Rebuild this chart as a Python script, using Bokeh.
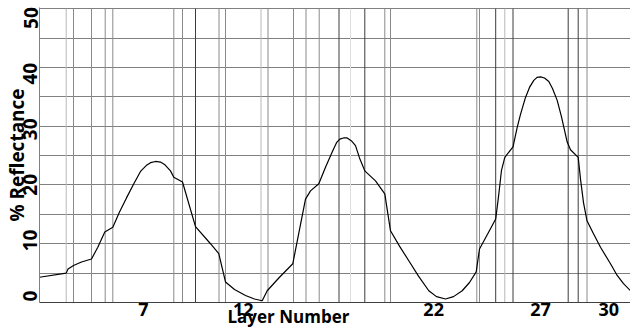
import math
from bokeh.plotting import figure
from bokeh.models import Range1d, FixedTicker, ColumnDataSource, LinearAxis
from bokeh.embed import file_html
from bokeh.resources import INLINE

# Layer boundaries along the stack (position, a.u.)
layer_edges = [0, 26.7, 34, 52, 65.7, 73.3, 134.3, 143, 156, 179.5, 186, 221.5,
               228.5, 254, 266.5, 279.7, 299.5, 311, 325.3, 345.3, 351, 437.3,
               440, 456.2, 465.3, 473.5, 528.7, 538.7, 547.5, 591]
first_layer = 2
labelled_layers = [7, 12, 22, 27, 30]
# tone of each inner boundary line: D dark, G gray, L light, V very light
boundary_tone = ["L", "G", "G", "G", "G", "G", "G", "D", "G", "G", "L", "G",
                 "G", "G", "G", "D", "V", "D", "G", "G", "G", "G", "D", "L",
                 "D", "D", "D", "G"]

position = [0, 26.7, 28.5, 34, 42, 52, 58.3, 65.3, 73.3, 80, 87, 94.3, 101,
            106.7, 111, 116, 121, 125, 131, 134.3, 143, 156, 171, 179.3, 186,
            195, 206, 215, 222.7, 227.7, 240, 253.3, 266, 271, 279.3, 286,
            292.7, 297, 300.3, 304, 307.7, 312, 316, 320, 325.3, 336, 345.3,
            351, 360, 369.3, 379, 389.3, 397, 406, 414, 422.7, 430, 436.7,
            440, 448, 456.2, 459, 462, 465.3, 473.5, 477.7, 481, 486, 490,
            494.3, 497.5, 501, 505, 509.3, 513, 517.7, 522, 527.7, 531, 538.7,
            541, 544, 547.5, 554, 561, 571, 577.7, 584, 591]
reflectance = [4.3, 5.0, 5.7, 6.3, 6.9, 7.4, 9.4, 12.0, 12.8, 15.4, 17.8, 20.2,
               22.3, 23.3, 23.8, 24.0, 23.9, 23.5, 22.4, 21.3, 20.5, 12.9, 10.0,
               8.3, 3.5, 2.2, 1.2, 0.6, 0.3, 2.0, 4.3, 6.6, 17.6, 19.0, 20.2,
               23.0, 25.6, 27.2, 27.8, 28.0, 28.0, 27.5, 26.7, 24.6, 22.4, 20.7,
               18.5, 12.2, 9.6, 7.1, 4.5, 2.0, 1.0, 0.6, 1.0, 2.0, 3.4, 5.2,
               9.1, 11.6, 14.2, 18.0, 22.5, 24.7, 26.5, 29.8, 32.0, 34.9, 36.6,
               37.8, 38.3, 38.4, 38.2, 37.6, 36.4, 34.4, 31.6, 27.3, 26.0, 24.7,
               21.0, 17.0, 13.9, 11.7, 9.4, 6.6, 4.6, 3.2, 2.0]

y_labels = [0, 10, 20, 30, 40, 50]
y_grid = [0, 5, 10, 15, 20, 25, 30, 35, 40, 45, 50]
x_title = "Layer Number"
y_title = "% Reflectance"

tone_colors = {"D": "#3c3c3c", "G": "#8a8a8a", "L": "#b8b8b8", "V": "#dedede"}

p = figure(width=630, height=331, output_backend="svg", toolbar_location=None,
           x_range=Range1d(layer_edges[0], layer_edges[-1]),
           y_range=Range1d(0, 50.2),
           min_border_left=39, min_border_right=0, min_border_top=7,
           min_border_bottom=29)
p.outline_line_color = None
p.background_fill_color = "white"
p.border_fill_color = "white"

# grids
p.xgrid.grid_line_color = None
p.ygrid.ticker = FixedTicker(ticks=y_grid)
p.ygrid.grid_line_color = "#808080"
p.ygrid.grid_line_width = 1

# layer boundary lines
inner = layer_edges[1:-1]
src = ColumnDataSource(dict(x=inner, y0=[0] * len(inner), y1=[50] * len(inner),
                            c=[tone_colors[t] for t in boundary_tone]))
p.segment(x0="x", y0="y0", x1="x", y1="y1", color="c", line_width=1, source=src)

# reflectance curve
p.line(position, reflectance, line_color="black", line_width=1.2)

# x axis: layer numbers at layer centres
mids = {}
for i in range(len(layer_edges) - 1):
    mids[first_layer + i] = (layer_edges[i] + layer_edges[i + 1]) / 2
xt = [mids[n] for n in labelled_layers]
p.xaxis.ticker = FixedTicker(ticks=xt)
p.xaxis.major_label_overrides = {t: str(n) for t, n in zip(xt, labelled_layers)}
p.xaxis.major_tick_line_color = None
p.xaxis.minor_tick_line_color = None
p.xaxis.major_tick_out = 0
p.xaxis.minor_tick_out = 0
p.xaxis.major_label_standoff = 0
p.xaxis.axis_line_color = "#404040"
p.xaxis.major_label_text_font = "Open Sans"
p.xaxis.major_label_text_font_style = "bold"
p.xaxis.major_label_text_font_size = "18px"
p.xaxis.major_label_text_color = "black"

# x title, placed between the layer labels as in the original
title_x = (mids[12] + mids[22]) / 2 - 50
xa2 = LinearAxis(ticker=FixedTicker(ticks=[title_x]),
                 major_label_overrides={title_x: x_title},
                 axis_line_color=None, major_tick_line_color=None,
                 minor_tick_line_color=None, major_tick_out=0, minor_tick_out=0,
                 major_label_standoff=-14,
                 major_label_text_font="Open Sans",
                 major_label_text_font_style="bold",
                 major_label_text_font_size="17px",
                 major_label_text_color="black")
p.add_layout(xa2, "below")

# y axis: rotated labels (slightly compressed spacing as in the original)
yt = [1.1 + v * 0.946 for v in y_labels]
p.yaxis.ticker = FixedTicker(ticks=yt)
p.yaxis.major_label_overrides = {t: str(v) for t, v in zip(yt, y_labels)}
p.yaxis.major_label_orientation = "parallel"
p.yaxis.major_tick_line_color = None
p.yaxis.minor_tick_line_color = None
p.yaxis.major_tick_out = 0
p.yaxis.minor_tick_out = 0
p.yaxis.major_label_standoff = 2
p.yaxis.axis_line_color = "#808080"
p.yaxis.major_label_text_font = "Open Sans"
p.yaxis.major_label_text_font_style = "bold"
p.yaxis.major_label_text_font_size = "19px"
p.yaxis.major_label_text_color = "black"
p.yaxis.axis_label = y_title
p.yaxis.axis_label_standoff = -9
p.yaxis.axis_label_text_font = "Open Sans"
p.yaxis.axis_label_text_font_style = "bold"
p.yaxis.axis_label_text_font_size = "19px"
p.yaxis.axis_label_text_color = "black"

open("out.html", "w").write(file_html(p, INLINE))
